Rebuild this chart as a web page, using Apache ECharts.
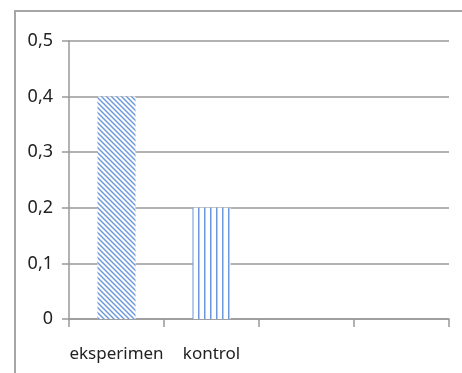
<!DOCTYPE html>
<html>
<head>
<meta charset="utf-8">
<script src="https://cdn.jsdelivr.net/npm/echarts@6/dist/echarts.min.js"></script>
<style>
html,body{margin:0;padding:0;background:#fff;}
#c{width:462px;height:373px;}
</style>
</head>
<body>
<div id="c"></div>
<script>
var categories = ['eksperimen', 'kontrol', '', ''];
var values = [0.4, 0.2, null, null];
var yTicks = [0, 0.1, 0.2, 0.3, 0.4, 0.5];

function diagPattern() {
  var p = 5, c = document.createElement('canvas');
  c.width = p; c.height = p;
  var g = c.getContext('2d');
  g.fillStyle = '#fff'; g.fillRect(0, 0, p, p);
  g.strokeStyle = '#6a98da'; g.lineWidth = 1.4;
  [[-p, 0], [0, 0], [p, 0]].forEach(function (o) {
    g.beginPath(); g.moveTo(o[0] - 1, -1); g.lineTo(o[0] + p + 1, p + 1); g.stroke();
  });
  return c;
}
function vertPattern() {
  var p = 6, c = document.createElement('canvas');
  c.width = p; c.height = 4;
  var g = c.getContext('2d');
  g.fillStyle = '#fff'; g.fillRect(0, 0, p, 4);
  g.fillStyle = '#6a98da'; g.fillRect(0, 0, 1.5, 4);
  return c;
}
var fills = [diagPattern(), vertPattern()];
var font = '"Noto Sans", sans-serif';

var chart = echarts.init(document.getElementById('c'), null, {renderer: 'canvas'});
chart.setOption({
  animation: false,
  graphic: [{
    type: 'rect', shape: {x: 15, y: 11, width: 700, height: 700},
    style: {fill: 'none', stroke: '#a6a6a6', lineWidth: 2}, silent: true
  }],
  grid: {left: 69, right: 13, top: 41, bottom: 54},
  xAxis: {
    type: 'category', data: categories, boundaryGap: true,
    axisLine: {lineStyle: {color: '#999', width: 1.5}},
    axisTick: {show: true, length: 8, alignWithLabel: false, lineStyle: {color: '#999', width: 1.5}},
    axisLabel: {color: '#222', fontFamily: font, fontSize: 17, margin: 27, interval: 0}
  },
  yAxis: {
    type: 'value', min: yTicks[0], max: yTicks[yTicks.length - 1], interval: 0.1,
    axisLine: {show: true, lineStyle: {color: '#999', width: 1.5}},
    axisTick: {show: true, length: 7, lineStyle: {color: '#999', width: 1.5}},
    splitLine: {lineStyle: {color: '#999', width: 1.5}},
    axisLabel: {color: '#222', fontFamily: font, fontSize: 18, margin: 16,
      formatter: function (v) { return String(Math.round(v * 10) / 10).replace('.', ','); }}
  },
  series: [{
    type: 'bar', barWidth: '40%',
    data: values.map(function (v, i) {
      return {value: v, itemStyle: fills[i] ? {color: {image: fills[i], repeat: 'repeat'}} : {}};
    })
  }]
});
</script>
</body>
</html>
